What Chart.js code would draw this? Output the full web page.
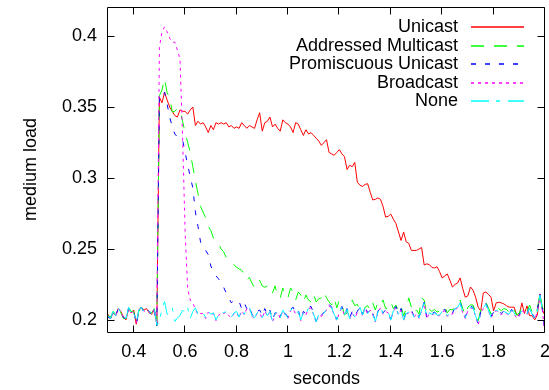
<!DOCTYPE html>
<html>
<head>
<meta charset="utf-8">
<script src="https://cdn.jsdelivr.net/npm/chart.js@4.4.1/dist/chart.umd.min.js"></script>
<style>
  html, body { margin: 0; padding: 0; background: #fff; }
  canvas { display: block; }
</style>
</head>
<body>
<canvas id="c" width="549" height="390"></canvas>
<script>
// ---- data ----
const seconds = [
  0.30,0.31,0.32,0.33,0.34,0.35,0.36,0.37,0.38,0.39,
  0.40,0.41,0.42,0.43,0.44,0.45,0.46,0.47,0.48,0.49,
  0.50,0.51,0.52,0.53,0.54,0.55,0.56,0.57,0.58,0.59,
  0.60,0.61,0.62,0.63,0.64,0.65,0.66,0.67,0.68,0.69,
  0.70,0.71,0.72,0.73,0.74,0.75,0.76,0.77,0.78,0.79,
  0.80,0.81,0.82,0.83,0.84,0.85,0.86,0.87,0.88,0.89,
  0.90,0.91,0.92,0.93,0.94,0.95,0.96,0.97,0.98,0.99,
  1.00,1.01,1.02,1.03,1.04,1.05,1.06,1.07,1.08,1.09,
  1.10,1.11,1.12,1.13,1.14,1.15,1.16,1.17,1.18,1.19,
  1.20,1.21,1.22,1.23,1.24,1.25,1.26,1.27,1.28,1.29,
  1.30,1.31,1.32,1.33,1.34,1.35,1.36,1.37,1.38,1.39,
  1.40,1.41,1.42,1.43,1.44,1.45,1.46,1.47,1.48,1.49,
  1.50,1.51,1.52,1.53,1.54,1.55,1.56,1.57,1.58,1.59,
  1.60,1.61,1.62,1.63,1.64,1.65,1.66,1.67,1.68,1.69,
  1.70,1.71,1.72,1.73,1.74,1.75,1.76,1.77,1.78,1.79,
  1.80,1.81,1.82,1.83,1.84,1.85,1.86,1.87,1.88,1.89,
  1.90,1.91,1.92,1.93,1.94,1.95,1.96,1.97,1.98,1.99,
  2.00
];

const unicast = [
  0.204,0.201,0.205,0.203,0.208,0.206,0.202,0.200,0.208,0.205,
  0.207,0.197,0.207,0.209,0.207,0.208,0.205,0.204,0.207,0.197,
  0.357,0.353,0.3605,0.355,0.350,0.347,0.344,0.343,0.348,0.347,
  0.347,0.345,0.348,0.350,0.337,0.340,0.338,0.339,0.336,0.332,
  0.337,0.334,0.339,0.338,0.339,0.338,0.339,0.336,0.337,0.335,
  0.336,0.335,0.339,0.337,0.335,0.337,0.336,0.335,0.341,0.346,
  0.333,0.339,0.340,0.343,0.336,0.338,0.335,0.333,0.341,0.339,
  0.338,0.336,0.332,0.339,0.338,0.334,0.330,0.334,0.331,0.332,
  0.330,0.328,0.326,0.323,0.325,0.327,0.318,0.317,0.316,0.318,
  0.320,0.317,0.315,0.306,0.309,0.308,0.311,0.297,0.295,0.294,
  0.2955,0.296,0.290,0.2845,0.285,0.286,0.285,0.280,0.2725,0.273,
  0.2746,0.271,0.268,0.262,0.256,0.262,0.255,0.254,0.249,0.249,
  0.249,0.250,0.251,0.2387,0.2395,0.239,0.237,0.2366,0.2375,0.234,
  0.2296,0.231,0.2324,0.228,0.2232,0.225,0.226,0.2296,0.222,0.216,
  0.217,0.2232,0.221,0.216,0.209,0.2063,0.219,0.2197,0.218,0.216,
  0.2063,0.212,0.2125,0.212,0.2113,0.210,0.209,0.209,0.209,0.2035,
  0.2035,0.212,0.2045,0.2099,0.203,0.203,0.200,0.2035,0.2183,0.207,
  0.203
];

const addressedMulticast = [
  0.203,0.202,0.206,0.204,0.208,0.205,0.201,0.201,0.209,0.206,
  0.206,0.198,0.206,0.209,0.206,0.207,0.206,0.205,0.208,0.196,
  0.358,0.362,0.370,0.360,0.357,0.3465,0.347,0.349,0.348,0.340,
  0.332,0.325,0.318,0.308,0.298,0.289,0.280,0.276,0.272,0.266,
  0.263,0.2577,0.257,0.254,0.250,0.248,0.244,0.242,0.241,0.239,
  0.237,0.236,0.235,0.232,0.228,0.230,0.226,0.2225,0.226,0.228,
  0.224,0.223,0.224,0.2246,0.219,0.224,0.216,0.2155,0.2225,0.216,
  0.2155,0.2225,0.2197,0.214,0.2197,0.2176,0.2127,0.2176,0.214,0.2127,
  0.218,0.2127,0.215,0.2155,0.2197,0.2155,0.2127,0.2105,0.2155,0.2085,
  0.214,0.2105,0.2035,0.205,0.209,0.214,0.210,0.211,0.207,0.2035,
  0.209,0.210,0.207,0.212,0.207,0.2125,0.2105,0.214,0.208,0.2085,
  0.2127,0.208,0.2105,0.206,0.2095,0.203,0.2075,0.2155,0.209,0.2045,
  0.207,0.204,0.2155,0.214,0.204,0.2075,0.206,0.2075,0.2055,0.2065,
  0.208,0.2095,0.205,0.2075,0.207,0.2095,0.2105,0.214,0.208,0.2035,
  0.209,0.2105,0.2105,0.2055,0.1995,0.207,0.2105,0.2125,0.2085,0.204,
  0.207,0.209,0.208,0.2065,0.208,0.2075,0.2055,0.209,0.207,0.2035,
  0.205,0.209,0.208,0.206,0.2105,0.2055,0.203,0.2075,0.219,0.2085,
  0.2065
];

const promiscuousUnicast = [
  0.202,0.201,0.205,0.203,0.208,0.205,0.202,0.200,0.208,0.205,
  0.206,0.197,0.206,0.209,0.205,0.208,0.206,0.203,0.207,0.196,
  0.357,0.356,0.3605,0.352,0.343,0.336,0.331,0.329,0.328,0.327,
  0.318,0.309,0.301,0.293,0.276,0.266,0.255,0.251,0.249,0.246,
  0.238,0.234,0.231,0.229,0.226,0.223,0.219,0.2155,0.212,0.214,
  0.214,0.213,0.208,0.212,0.208,0.210,0.204,0.202,0.206,0.207,
  0.203,0.208,0.2035,0.207,0.200,0.205,0.207,0.202,0.2075,0.2045,
  0.202,0.2075,0.209,0.205,0.207,0.2005,0.206,0.2045,0.209,0.2095,
  0.2045,0.199,0.2045,0.2035,0.205,0.208,0.211,0.209,0.2045,0.2005,
  0.206,0.2095,0.204,0.208,0.2015,0.206,0.2025,0.206,0.2095,0.204,
  0.2095,0.205,0.208,0.2045,0.1995,0.206,0.2095,0.205,0.207,0.206,
  0.2005,0.207,0.2095,0.2045,0.208,0.2005,0.205,0.206,0.2075,0.2025,
  0.2055,0.202,0.2075,0.2125,0.202,0.2055,0.2045,0.2055,0.204,0.204,
  0.2065,0.2075,0.2035,0.2055,0.205,0.2085,0.2095,0.2125,0.206,0.202,
  0.2075,0.2095,0.209,0.2035,0.197,0.2055,0.209,0.2115,0.2075,0.2025,
  0.2055,0.2075,0.2065,0.2045,0.2065,0.2055,0.2045,0.2075,0.2055,0.202,
  0.2035,0.2075,0.2065,0.2045,0.209,0.2045,0.2015,0.2065,0.218,0.2075,
  0.190
];

const broadcast = [
  0.203,0.201,0.205,0.203,0.208,0.205,0.202,0.201,0.208,0.205,
  0.206,0.198,0.207,0.209,0.206,0.207,0.206,0.204,0.208,0.197,
  0.392,0.403,0.4065,0.403,0.3985,0.3957,0.3957,0.390,0.384,0.330,
  0.262,0.222,0.214,0.212,0.2075,0.2035,0.2045,0.2045,0.201,0.2055,
  0.2035,0.2045,0.1995,0.203,0.2055,0.2045,0.2055,0.203,0.2015,0.2045,
  0.2055,0.2015,0.2065,0.2035,0.208,0.2085,0.2025,0.201,0.2045,0.205,
  0.201,0.2065,0.2025,0.2055,0.1985,0.204,0.2055,0.201,0.2065,0.2035,
  0.201,0.2065,0.208,0.204,0.2055,0.1995,0.205,0.2035,0.208,0.2085,
  0.2035,0.198,0.2035,0.2025,0.204,0.207,0.210,0.208,0.2035,0.1995,
  0.205,0.2085,0.203,0.207,0.2005,0.205,0.2015,0.205,0.2085,0.203,
  0.2085,0.204,0.207,0.2035,0.1985,0.205,0.2085,0.204,0.206,0.205,
  0.1995,0.206,0.2085,0.2035,0.207,0.1995,0.204,0.205,0.2065,0.2015,
  0.2045,0.201,0.2065,0.2115,0.201,0.2045,0.2035,0.2045,0.203,0.203,
  0.2055,0.2065,0.2025,0.2045,0.204,0.2075,0.2085,0.2115,0.205,0.201,
  0.2065,0.2085,0.208,0.2025,0.1965,0.2045,0.208,0.2105,0.2065,0.2015,
  0.2045,0.2065,0.2055,0.2035,0.2055,0.2045,0.2035,0.2065,0.2045,0.201,
  0.2025,0.2065,0.2055,0.2035,0.208,0.2035,0.2005,0.2055,0.217,0.2065,
  0.190
];

const none = [
  0.203,0.201,0.206,0.203,0.2085,0.205,0.202,0.201,0.209,0.205,
  0.206,0.198,0.207,0.209,0.206,0.208,0.206,0.204,0.208,0.1965,
  0.1985,0.2085,0.213,0.204,0.205,0.2085,0.199,0.2015,0.203,0.207,
  0.205,0.2085,0.201,0.206,0.2085,0.204,0.205,0.205,0.2015,0.206,
  0.204,0.205,0.200,0.2035,0.206,0.205,0.206,0.2035,0.202,0.205,
  0.206,0.202,0.207,0.204,0.2085,0.209,0.203,0.2015,0.205,0.2055,
  0.2015,0.207,0.203,0.206,0.199,0.2045,0.206,0.2015,0.207,0.204,
  0.2014,0.207,0.2085,0.2045,0.206,0.200,0.2055,0.204,0.2085,0.209,
  0.204,0.1986,0.204,0.203,0.2045,0.2075,0.2105,0.2085,0.204,0.200,
  0.2055,0.209,0.2035,0.2075,0.201,0.2055,0.202,0.2055,0.209,0.2035,
  0.209,0.2045,0.2075,0.204,0.199,0.2055,0.209,0.2045,0.2065,0.2055,
  0.200,0.2065,0.209,0.204,0.2075,0.200,0.2045,0.2055,0.207,0.202,
  0.205,0.2015,0.207,0.212,0.2015,0.205,0.204,0.205,0.2035,0.2035,
  0.206,0.207,0.203,0.205,0.2045,0.208,0.209,0.212,0.2055,0.2015,
  0.207,0.209,0.2085,0.203,0.1975,0.205,0.2085,0.211,0.207,0.202,
  0.205,0.207,0.206,0.204,0.206,0.205,0.204,0.207,0.205,0.2015,
  0.203,0.207,0.206,0.204,0.2085,0.204,0.201,0.206,0.2176,0.207,
  0.205
];

const seriesNames = ['Unicast', 'Addressed Multicast', 'Promiscuous Unicast', 'Broadcast', 'None'];
const xTicks = [0.4, 0.6, 0.8, 1, 1.2, 1.4, 1.6, 1.8, 2];
const yTicks = [0.2, 0.25, 0.3, 0.35, 0.4];
const xTitle = 'seconds';
const yTitle = 'medium load';

// ---- styles ----
const FONT = { family: "'Liberation Sans', Arial, Helvetica, sans-serif", size: 18 };
const styles = [
  { color: 'rgb(255,0,0)', dash: [] },
  { color: 'rgb(0,255,0)', dash: [13, 10] },
  { color: 'rgb(0,0,255)', dash: [5, 9] },
  { color: 'rgb(255,0,255)', dash: [3, 4] },
  { color: 'rgb(0,255,255)', dash: [18, 7, 4, 8] }
];
const allSeries = [unicast, addressedMulticast, promiscuousUnicast, broadcast, none];

const datasets = allSeries.map((arr, i) => ({
  label: seriesNames[i],
  data: arr.map((v, j) => ({ x: seconds[j], y: v })),
  borderColor: styles[i].color,
  backgroundColor: styles[i].color,
  borderDash: styles[i].dash,
  borderWidth: 1,
  pointRadius: 0,
  tension: 0,
  fill: false,
  order: allSeries.length - i
}));

const framePlugin = {
  id: 'frame',
  afterDatasetsDraw(chart) {
    const { ctx, chartArea: a, scales: { x, y } } = chart;
    ctx.save();
    ctx.globalAlpha = 1;
    ctx.globalCompositeOperation = 'source-over';
    ctx.strokeStyle = '#000';
    ctx.lineWidth = 1;
    ctx.setLineDash([]);
    const L = a.left - 0.5, R = a.right - 0.5, T = a.top + 0.5, B = a.bottom + 0.5;
    ctx.beginPath();
    ctx.rect(L, T, R - L, B - T);
    ctx.stroke();
    const tl = 7;
    ctx.beginPath();
    xTicks.forEach(v => {
      const px = Math.round(x.getPixelForValue(v)) - 0.5;
      ctx.moveTo(px, B); ctx.lineTo(px, B - tl);
      ctx.moveTo(px, T); ctx.lineTo(px, T + tl);
    });
    yTicks.forEach(v => {
      const py = Math.round(y.getPixelForValue(v)) + 0.5;
      ctx.moveTo(L, py); ctx.lineTo(L + tl, py);
      ctx.moveTo(R, py); ctx.lineTo(R - tl, py);
    });
    ctx.stroke();

    // key (gnuplot style: right-aligned text, line sample on the right)
    ctx.font = FONT.size + 'px ' + FONT.family;
    ctx.textAlign = 'right';
    ctx.textBaseline = 'middle';
    seriesNames.forEach((name, i) => {
      const yy = Math.round(27 + i * 18.5);
      ctx.fillStyle = '#000';
      ctx.fillText(name, 458, yy);
    });
    seriesNames.forEach((name, i) => {
      const yy = Math.round(27 + i * 18.5);
      ctx.beginPath();
      ctx.strokeStyle = styles[i].color;
      ctx.lineWidth = 1.3;
      ctx.setLineDash(styles[i].dash);
      ctx.moveTo(471, yy);
      ctx.lineTo(524, yy);
      ctx.stroke();
    });
    ctx.restore();
  }
};

new Chart(document.getElementById('c'), {
  type: 'line',
  data: { datasets },
  options: {
    responsive: false,
    animation: false,
    events: [],
    layout: { padding: { left: 0, right: 4, top: 7, bottom: 0 } },
    plugins: { legend: { display: false }, tooltip: { enabled: false } },
    scales: {
      x: {
        type: 'linear',
        min: 0.3,
        max: 2.0,
        afterBuildTicks: s => { s.ticks = xTicks.map(v => ({ value: v })); },
        afterFit: s => { s.height = 58; s.paddingLeft = 0; s.paddingRight = 0; },
        ticks: { font: FONT, color: '#000', padding: 9, maxRotation: 0, autoSkip: false,
                 callback: v => String(v) },
        grid: { display: false, drawTicks: false },
        border: { display: false },
        title: { display: true, text: xTitle, font: FONT, color: '#000', padding: { top: 0, bottom: 0 } }
      },
      y: {
        type: 'linear',
        min: 0.1915,
        max: 0.4205,
        afterBuildTicks: s => { s.ticks = yTicks.map(v => ({ value: v })); },
        afterFit: s => { s.width = 108; s.paddingTop = 0; s.paddingBottom = 0; },
        ticks: { font: FONT, color: '#000', padding: 11, autoSkip: false,
                 callback: v => String(v) },
        grid: { display: false, drawTicks: false },
        border: { display: false },
        title: { display: true, text: yTitle, font: FONT, color: '#000', padding: { top: 20, bottom: 0 } }
      }
    }
  },
  plugins: [framePlugin]
});
</script>
</body>
</html>
